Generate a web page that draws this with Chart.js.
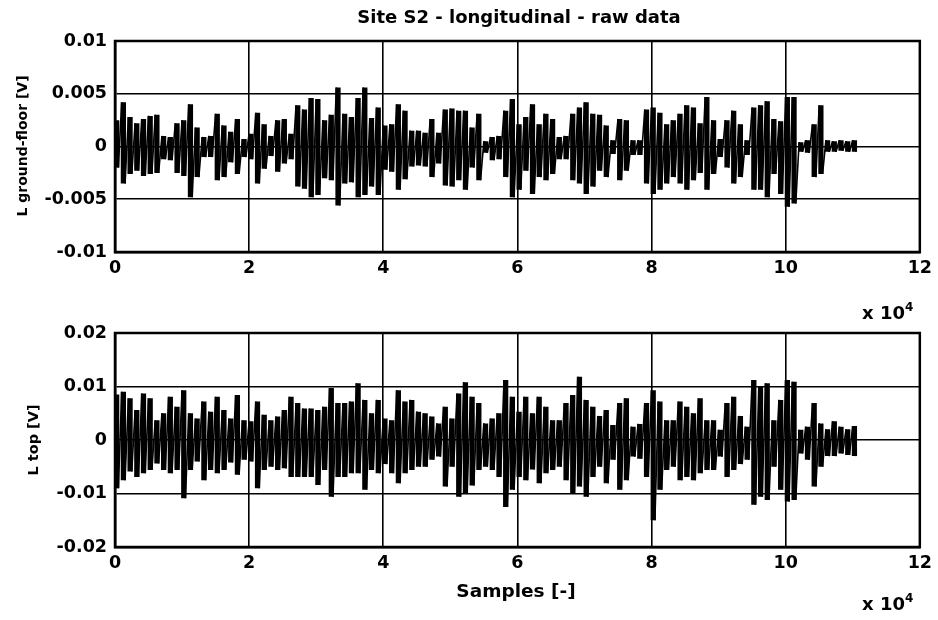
<!DOCTYPE html>
<html>
<head>
<meta charset="utf-8">
<script src="https://cdn.jsdelivr.net/npm/chart.js@4"></script>
<style>
  body { margin: 0; background: #fff; width: 938px; height: 620px; position: relative; overflow: hidden;
         font-family: "DejaVu Sans", sans-serif; font-weight: bold; color: #000; }
  .plot { position: absolute; left: 0; }
  .txt { position: absolute; white-space: nowrap; line-height: 1; }
  .rot { transform: translate(-50%, -50%) rotate(-90deg); }
  sup { font-size: 12px; vertical-align: 8px; }
</style>
</head>
<body>
<canvas id="gf" class="plot" style="top:0" width="938" height="300"></canvas>
<canvas id="tp" class="plot" style="top:300px" width="938" height="320"></canvas>

<div class="txt" style="left:519px;top:8px;transform:translateX(-50%);font-size:18px">Site S2 - longitudinal - raw data</div>
<div class="txt rot" style="left:22px;top:146px;font-size:14px">L ground-floor [V]</div>
<div class="txt rot" style="left:33px;top:440px;font-size:14.5px">L top [V]</div>
<div class="txt" style="left:516px;top:582px;transform:translateX(-50%);font-size:18.5px">Samples [-]</div>
<div class="txt" style="left:862px;top:301px;font-size:18px">x 10<sup>4</sup></div>
<div class="txt" style="left:862px;top:592px;font-size:18px">x 10<sup>4</sup></div>

<script>
// one peak pair per 1000 samples, values in mV
const binSize = 1000;

// L ground-floor, upper / lower peak per bin
const gfUp = [2.5,4.2,2.8,2.2,2.6,2.9,3.0,1.0,0.9,2.2,
              2.5,4.0,1.8,0.9,1.0,3.1,2.0,1.4,2.6,0.7,
              1.2,3.2,2.1,1.0,2.5,2.6,1.2,3.9,3.5,4.6,
              4.5,2.5,3.0,5.6,3.1,2.8,4.6,5.6,2.7,3.7,
              2.0,2.1,4.0,3.4,1.5,1.5,1.3,2.6,1.3,3.5,
              3.6,3.4,3.4,1.8,3.1,0.5,0.9,1.0,3.4,4.5,
              2.1,2.8,4.0,2.1,3.1,2.6,0.9,1.0,3.1,3.7,
              4.2,3.1,3.0,2.0,0.6,2.6,2.5,0.6,0.6,3.5,
              3.7,3.2,2.1,2.5,3.1,3.9,3.7,2.2,4.7,2.5,
              0.7,2.5,3.4,2.1,0.6,3.7,3.9,4.3,2.6,2.4,
              4.7,4.7,0.4,0.6,2.1,3.9,0.6,0.5,0.6,0.5,0.6];
const gfLo = [-2.0,-3.5,-2.6,-2.3,-2.8,-2.6,-2.5,-1.2,-1.3,-2.5,
              -2.8,-4.8,-2.9,-1.0,-1.0,-3.2,-2.9,-1.5,-2.6,-1.0,
              -1.2,-3.5,-2.1,-0.9,-2.4,-1.6,-1.2,-3.8,-4.0,-4.8,
              -4.6,-3.0,-3.2,-5.6,-3.5,-3.4,-4.8,-4.6,-3.8,-4.6,
              -2.2,-2.4,-4.1,-3.1,-1.9,-1.8,-1.9,-2.9,-1.6,-3.7,
              -3.8,-3.2,-4.1,-2.0,-3.2,-0.6,-1.3,-1.2,-2.9,-4.8,
              -4.1,-2.3,-4.5,-2.9,-3.2,-2.6,-1.2,-1.2,-3.2,-3.5,
              -4.5,-3.8,-2.3,-2.9,-0.7,-3.2,-2.3,-0.8,-0.8,-3.5,
              -4.5,-4.1,-3.5,-2.9,-3.5,-4.1,-3.2,-2.5,-4.1,-2.6,
              -1.0,-2.0,-3.5,-2.9,-0.8,-4.1,-4.1,-4.8,-2.6,-4.5,
              -5.7,-5.4,-0.5,-0.6,-2.9,-2.6,-0.5,-0.5,-0.4,-0.5,-0.5];

// L top, upper / lower peak per bin
const topUp = [8.5,9.0,7.8,5.6,8.7,7.8,3.7,5.0,8.1,6.2,
               9.3,5.0,4.0,7.2,5.3,8.1,5.6,4.0,8.4,3.7,
               3.5,7.2,4.7,3.7,4.4,5.6,8.1,6.9,5.9,5.9,
               5.6,6.2,9.7,6.9,6.9,7.2,10.6,7.5,5.0,7.5,
               4.0,3.7,9.3,7.2,7.5,5.3,5.0,4.4,3.1,6.2,
               4.0,8.7,10.8,8.1,6.9,3.1,4.0,5.0,11.2,8.1,
               5.3,8.1,5.0,8.1,6.2,3.7,3.7,6.9,8.4,11.8,
               7.5,6.2,4.5,5.6,2.8,6.9,7.8,2.5,3.0,6.9,
               9.3,7.2,3.7,3.7,7.2,6.2,5.0,7.8,3.7,3.7,
               1.9,6.9,8.1,4.5,2.5,11.2,10.0,10.6,3.7,7.5,
               11.2,10.9,1.9,2.5,6.9,3.1,2.0,3.5,2.5,2.0,2.6];
const topLo = [-9.0,-7.5,-5.9,-6.9,-6.2,-5.6,-4.4,-5.6,-6.2,-5.6,
               -10.9,-5.6,-4.0,-7.5,-5.6,-6.2,-5.6,-4.2,-6.5,-3.7,
               -4.0,-9.0,-5.6,-5.0,-5.6,-5.3,-6.9,-6.9,-6.9,-6.9,
               -8.4,-5.6,-10.6,-6.9,-6.9,-6.2,-6.2,-9.3,-5.6,-6.2,
               -4.5,-6.2,-8.1,-6.2,-5.6,-5.0,-5.0,-3.7,-3.1,-8.7,
               -5.0,-10.6,-10.0,-8.5,-5.6,-5.0,-5.6,-6.9,-12.5,-9.3,
               -6.9,-7.5,-5.5,-8.1,-6.2,-5.6,-5.0,-7.5,-10.0,-8.7,
               -10.6,-6.9,-5.0,-8.1,-3.7,-9.3,-7.5,-3.1,-3.5,-6.9,
               -15.0,-9.3,-5.6,-5.0,-7.5,-6.9,-7.5,-6.2,-5.6,-5.6,
               -3.1,-6.9,-5.6,-4.5,-3.7,-12.1,-10.6,-11.2,-5.0,-9.3,
               -11.5,-11.2,-2.5,-3.7,-8.7,-5.0,-3.0,-3.0,-2.5,-2.8,-3.0];

const xTicks = [0, 20000, 40000, 60000, 80000, 100000, 120000];
const xTickLabels = ['0', '2', '4', '6', '8', '10', '12'];
const gfTicks = [-0.01, -0.005, 0, 0.005, 0.01];
const gfTickLabels = ['-0.01', '-0.005', '0', '0.005', '0.01'];
const topTicks = [-0.02, -0.01, 0, 0.01, 0.02];
const topTickLabels = ['-0.02', '-0.01', '0', '0.01', '0.02'];

const tickFont = { family: 'DejaVu Sans', size: 17.5, weight: 'bold' };

// frame round the plot area
const boxPlugin = {
    id: 'box',
    afterDatasetsDraw(chart) {
        const a = chart.chartArea, ctx = chart.ctx;
        ctx.save();
        ctx.strokeStyle = '#000';
        ctx.lineWidth = 2.5;
        ctx.strokeRect(a.left, a.top, a.right - a.left, a.bottom - a.top);
        ctx.restore();
    }
};

function pintarSenal(id, up, lo, ticks, tickLabels, padTop, xAxisH) {
    const puntos = [], barras = [];
    up.forEach((u, k) => {
        puntos.push({ x: k * binSize, y: u / 1000 });
        puntos.push({ x: k * binSize + binSize / 2, y: lo[k] / 1000 });
        barras.push({ x: k * binSize + binSize / 4, y: [lo[k] / 1000, u / 1000] });
    });

    return new Chart(document.getElementById(id), {
        data: {
            datasets: [{
                type: 'bar',
                data: barras,
                backgroundColor: '#000',
                barPercentage: 0.78,
                categoryPercentage: 1
            }, {
                type: 'line',
                data: puntos,
                borderColor: '#000',
                borderWidth: 1.6,
                borderJoinStyle: 'bevel',
                pointRadius: 0,
                tension: 0
            }]
        },
        options: {
            responsive: false,
            animation: false,
            events: [],
            layout: { padding: { top: padTop, right: 18, left: 0, bottom: 0 } },
            plugins: { legend: { display: false }, tooltip: { enabled: false } },
            scales: {
                x: {
                    type: 'linear', min: 0, max: 120000, offset: false,
                    afterBuildTicks: s => { s.ticks = xTicks.map(v => ({ value: v })); },
                    afterFit: s => { s.height = xAxisH; },
                    ticks: {
                        callback: v => xTickLabels[xTicks.indexOf(v)],
                        font: tickFont, color: '#000', padding: 6,
                        maxRotation: 0, autoSkip: false
                    },
                    grid: { color: '#000', lineWidth: 1.6, drawTicks: false, offset: false },
                    border: { color: '#000', width: 2.5 }
                },
                y: {
                    type: 'linear', min: ticks[0], max: ticks[ticks.length - 1],
                    afterBuildTicks: s => { s.ticks = ticks.map(v => ({ value: v })); },
                    afterFit: s => { s.width = 115; },
                    ticks: {
                        callback: v => tickLabels[ticks.indexOf(v)],
                        font: tickFont, color: '#000', padding: 8
                    },
                    grid: { color: '#000', lineWidth: 1.6, drawTicks: false },
                    border: { color: '#000', width: 2.5 }
                }
            }
        },
        plugins: [boxPlugin]
    });
}

pintarSenal('gf', gfUp, gfLo, gfTicks, gfTickLabels, 41, 48);
pintarSenal('tp', topUp, topLo, topTicks, topTickLabels, 33, 73);
</script>
</body>
</html>
